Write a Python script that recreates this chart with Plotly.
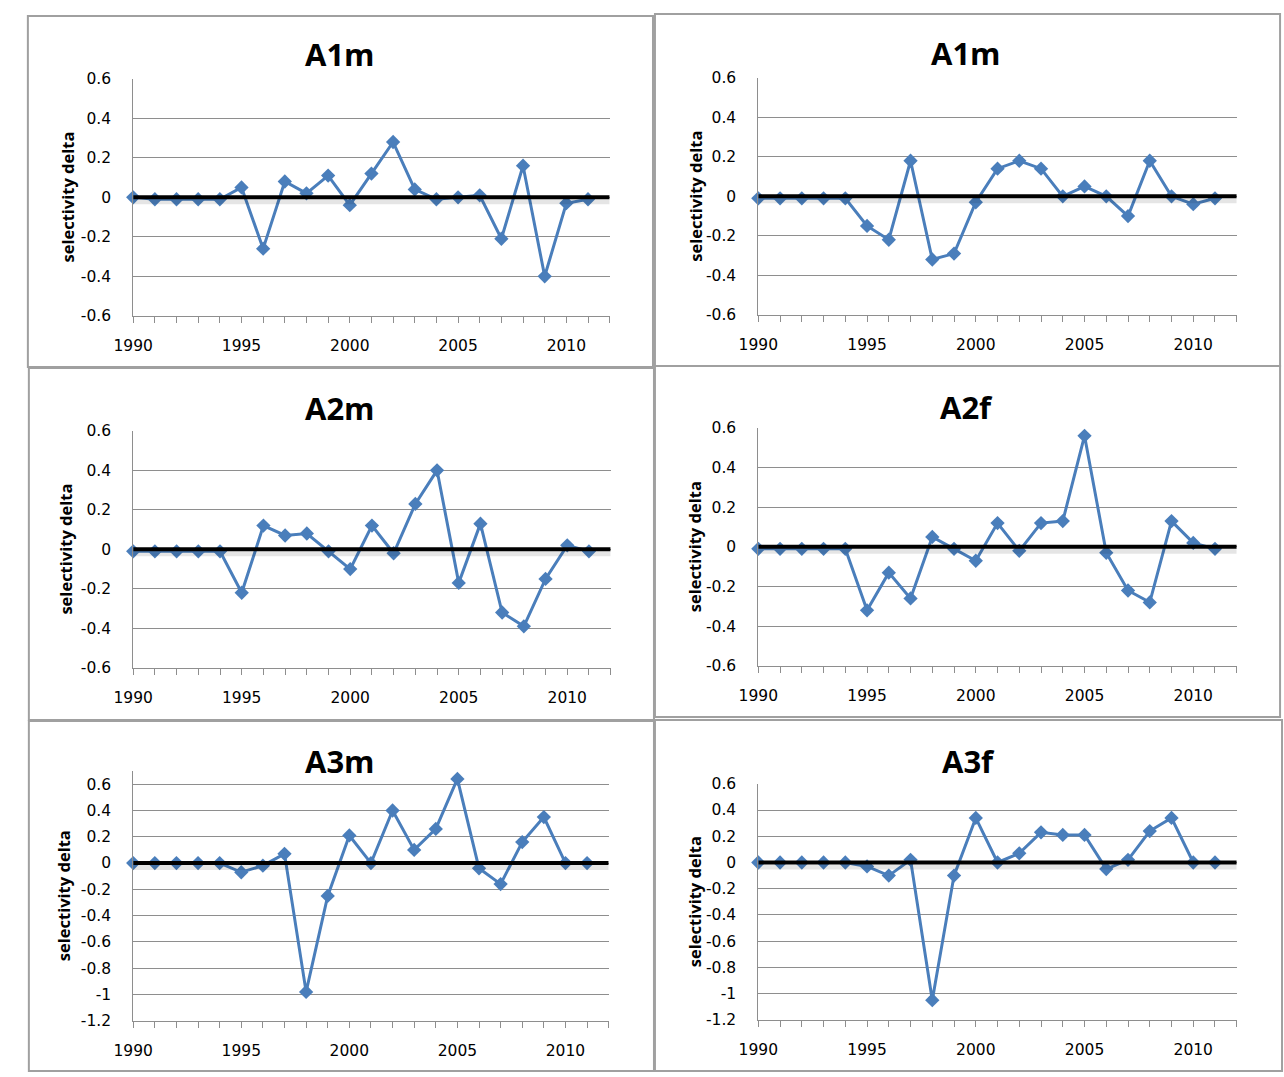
import plotly.graph_objects as go

W, H = 1284, 1077

years = list(range(1990, 2012))

titles = ["A1m", "A1m", "A2m", "A2f", "A3m", "A3f"]

a1m_left = [0.0, -0.01, -0.01, -0.01, -0.01, 0.05, -0.26, 0.08, 0.02, 0.11, -0.04,
            0.12, 0.28, 0.04, -0.01, 0.0, 0.01, -0.21, 0.16, -0.40, -0.03, -0.01]
a1m_right = [-0.01, -0.01, -0.01, -0.01, -0.01, -0.15, -0.22, 0.18, -0.32, -0.29, -0.03,
             0.14, 0.18, 0.14, 0.0, 0.05, 0.0, -0.10, 0.18, 0.0, -0.04, -0.01]
a2m = [-0.01, -0.01, -0.01, -0.01, -0.01, -0.22, 0.12, 0.07, 0.08, -0.01, -0.10,
       0.12, -0.02, 0.23, 0.40, -0.17, 0.13, -0.32, -0.39, -0.15, 0.02, -0.01]
a2f = [-0.01, -0.01, -0.01, -0.01, -0.01, -0.32, -0.13, -0.26, 0.05, -0.01, -0.07,
       0.12, -0.02, 0.12, 0.13, 0.56, -0.03, -0.22, -0.28, 0.13, 0.02, -0.01]
a3m = [0.0, 0.0, 0.0, 0.0, 0.0, -0.07, -0.02, 0.07, -0.98, -0.25, 0.21,
       0.0, 0.40, 0.10, 0.26, 0.64, -0.04, -0.16, 0.16, 0.35, 0.0, 0.0]
a3f = [0.0, 0.0, 0.0, 0.0, 0.0, -0.03, -0.10, 0.02, -1.05, -0.10, 0.34,
       0.0, 0.07, 0.23, 0.21, 0.21, -0.05, 0.02, 0.24, 0.34, 0.0, 0.0]

series = [a1m_left, a1m_right, a2m, a2f, a3m, a3f]

x_tickvals = list(range(1990, 2013))
x_ticktext = [str(v) if v % 5 == 0 and v <= 2010 else "" for v in x_tickvals]

y_ticks_small = [-0.6, -0.4, -0.2, 0.0, 0.2, 0.4, 0.6]
y_ticks_large = [-1.2, -1.0, -0.8, -0.6, -0.4, -0.2, 0.0, 0.2, 0.4, 0.6]


def fmt(v):
    v = round(v, 1)
    if v == 0:
        return "0"
    return "%g" % v

# layout geometry (pixels): plot area x0, x1, y_top, y_bottom ; panel box
plot_px = [
    (115, 599, 71, 312),
    (750, 1236, 70, 311),
    (115, 600, 429, 670),
    (750, 1236, 426, 668),
    (115, 598, 775, 1029),
    (750, 1236, 788, 1028),
]
y_ranges = [[-0.6, 0.6]] * 4 + [[-1.2, 0.7], [-1.2, 0.6]]
y_tick_sets = [y_ticks_small] * 4 + [y_ticks_large, y_ticks_large]
boxes = [
    (8, 643, 7, 364),
    (645, 1280, 5, 363),
    (9, 644, 365, 723),
    (645, 1280, 363, 720),
    (9, 644, 724, 1080),
    (645, 1282, 723, 1080),
]
title_pos = [(325, 46), (961, 45), (325, 406), (961, 405), (325, 765), (963, 765)]
ylabel_x = [48, 686, 46, 686, 45, 686]

BLUE = "#4A7EBB"
GRID = "#8E8E8E"
TICKFONT = "DejaVu Sans"
BOLDFONT = "Open Sans"

fig = go.Figure()
layout = dict(
    width=W, height=H,
    margin=dict(l=0, r=0, t=0, b=0),
    paper_bgcolor="white", plot_bgcolor="white",
    showlegend=False,
    font=dict(family=TICKFONT, color="black", size=15),
)
shapes = []
annotations = []

for i, (vals, (x0, x1, yt, yb)) in enumerate(zip(series, plot_px)):
    n = i + 1
    xa = "x" if n == 1 else f"x{n}"
    ya = "y" if n == 1 else f"y{n}"
    fig.add_trace(go.Scatter(
        x=years, y=vals, mode="lines+markers", xaxis=xa, yaxis=ya,
        line=dict(color=BLUE, width=3),
        marker=dict(symbol="diamond", size=11, color=BLUE),
        cliponaxis=False,
    ))
    yt_vals = y_tick_sets[i]
    layout["xaxis" if n == 1 else f"xaxis{n}"] = dict(
        domain=[x0 / W, x1 / W], anchor=ya, range=[1990, 2012],
        tickmode="array", tickvals=x_tickvals, ticktext=x_ticktext,
        ticks="outside", ticklen=6, tickcolor=GRID, tickwidth=1,
        showline=True, linecolor=GRID, linewidth=1,
        showgrid=False, zeroline=False,
        tickfont=dict(family=TICKFONT, size=15.5, color="black"),
        ticklabelstandoff=10,
    )
    layout["yaxis" if n == 1 else f"yaxis{n}"] = dict(
        domain=[1 - yb / H, 1 - yt / H], anchor=xa, range=y_ranges[i],
        tickmode="array", tickvals=yt_vals, ticktext=[fmt(v) for v in yt_vals],
        ticks="", showline=True, linecolor=GRID, linewidth=1,
        showgrid=True, gridcolor=GRID, gridwidth=1, zeroline=False,
        tickfont=dict(family=TICKFONT, size=15.5, color="black"),
        ticklabelstandoff=18,
    )
    # soft shadow under the zero line
    shapes.append(dict(
        type="rect", xref=xa, yref=ya, x0=1990, x1=2012,
        ysizemode="pixel", yanchor=0, y0=-2, y1=-7,
        fillcolor="rgba(0,0,0,0.10)", line=dict(width=0), layer="above",
    ))
    # thick zero line
    shapes.append(dict(
        type="line", xref=xa, yref=ya, x0=1990, x1=2012, y0=0, y1=0,
        line=dict(color="black", width=4), layer="above",
    ))
    # panel border
    bx0, bx1, by0, by1 = boxes[i]
    shapes.append(dict(
        type="rect", xref="paper", yref="paper",
        x0=bx0 / W, x1=bx1 / W, y0=1 - by1 / H, y1=1 - by0 / H,
        line=dict(color="#A0A0A0", width=2), fillcolor="rgba(0,0,0,0)",
        layer="below",
    ))
    # panel title
    tx, ty = title_pos[i]
    annotations.append(dict(
        text=f"<b>{titles[i]}</b>", xref="paper", yref="paper",
        x=tx / W, y=1 - ty / H, xanchor="center", yanchor="middle",
        showarrow=False, font=dict(family=BOLDFONT, size=31, color="black"),
    ))
    # y-axis label
    annotations.append(dict(
        text="<b>selectivity delta</b>", xref="paper", yref="paper",
        x=ylabel_x[i] / W, y=1 - ((yt + yb) / 2) / H,
        xanchor="center", yanchor="middle", textangle=-90,
        showarrow=False, font=dict(family=BOLDFONT, size=16.5, color="black"),
    ))

layout["shapes"] = shapes
layout["annotations"] = annotations
fig.update_layout(**layout)
fig.write_html("out.html")
